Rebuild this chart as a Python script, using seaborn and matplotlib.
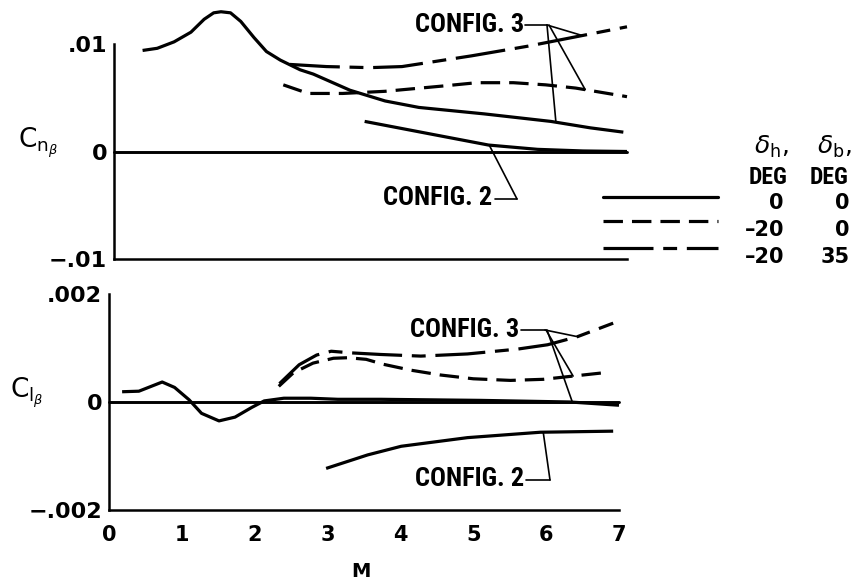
import numpy as np
import pandas as pd
import matplotlib
matplotlib.use("Agg")
import matplotlib.pyplot as plt
from matplotlib.lines import Line2D
from matplotlib import font_manager
import seaborn as sns

# ---------------- data ----------------
# upper panel : C_n_beta versus Mach number
cn_base_m = [0.39, 0.59, 0.82, 1.05, 1.23, 1.36, 1.46, 1.59, 1.73, 1.91, 2.08,
             2.27, 2.54, 2.72, 3.22, 3.70, 4.16, 5.05, 5.96, 6.50, 6.95]
cn_base_v = [0.0094, 0.0096, 0.0102, 0.0111, 0.0123, 0.0129, 0.0130, 0.0129,
             0.0121, 0.0106, 0.0093, 0.0085, 0.0076, 0.0072, 0.0057, 0.0047,
             0.0041, 0.0035, 0.0028, 0.0022, 0.0018]
cn_c3_dash_m = [2.31, 2.65, 3.12, 3.70, 4.50, 4.95, 5.45, 5.89, 6.30, 7.00]
cn_c3_dash_v = [0.0062, 0.0054, 0.0054, 0.0056, 0.0061, 0.0064, 0.0064,
                0.0062, 0.0059, 0.0051]
cn_c3_dd_m = [2.40, 2.90, 3.49, 3.93, 4.88, 5.65, 7.00]
cn_c3_dd_v = [0.0081, 0.0079, 0.0078, 0.0079, 0.0089, 0.0098, 0.0116]
cn_c2_m = [3.42, 4.34, 5.11, 5.78, 6.40, 7.00]
cn_c2_v = [0.0028, 0.0016, 0.0006, 0.0002, 0.00005, 0.0]

# lower panel : C_l_beta versus Mach number
cl_base_m = [0.18, 0.41, 0.73, 0.90, 1.10, 1.27, 1.51, 1.73, 1.96, 2.13, 2.40,
             2.77, 3.14, 3.73, 5.10, 6.33, 7.00]
cl_base_v = [0.00019, 0.00020, 0.00037, 0.00027, 0.00004, -0.00021, -0.00035,
             -0.00028, -0.00010, 0.00002, 0.00007, 0.00007, 0.00005, 0.00005,
             0.00003, 0.0, -0.00006]
cl_c3_dash_m = [2.33, 2.53, 2.80, 3.08, 3.28, 3.53, 3.76, 4.14, 4.55, 5.00,
                5.51, 5.96, 6.78]
cl_c3_dash_v = [0.00029, 0.00054, 0.00072, 0.00081, 0.00082, 0.00079, 0.00070,
                0.00059, 0.00050, 0.00043, 0.00040, 0.00042, 0.00054]
cl_c3_dd_m = [2.34, 2.61, 2.85, 3.05, 3.32, 3.73, 4.28, 4.92, 5.61, 6.02,
              6.43, 6.92]
cl_c3_dd_v = [0.00034, 0.00069, 0.00087, 0.00094, 0.00091, 0.00088, 0.00085,
              0.00089, 0.00098, 0.00106, 0.00121, 0.00146]
cl_c2_m = [2.98, 3.55, 4.01, 4.92, 5.92, 6.92]
cl_c2_v = [-0.00123, -0.00098, -0.00082, -0.00066, -0.00056, -0.00054]

x_ticks = [0, 1, 2, 3, 4, 5, 6, 7]
x_labels = ["0", "1", "2", "3", "4", "5", "6", "7"]
cn_ticks = [-0.01, 0.0, 0.01]
cn_labels = ["\u2212.01", "0", ".01"]
cl_ticks = [-0.002, 0.0, 0.002]
cl_labels = ["\u2212.002", "0", ".002"]

legend_dh = ["0", "\u201320", "\u201320"]
legend_db = ["0", "0", "35"]

# ---------------- style ----------------
sns.set_style("white")
plt.rcParams["font.family"] = ["DejaVu Sans"]
plt.rcParams["mathtext.fontset"] = "dejavusans"
plt.rcParams["lines.scale_dashes"] = False
plt.rcParams["axes.linewidth"] = 1.8
for key in ("text.color", "axes.labelcolor", "xtick.color", "ytick.color",
            "axes.edgecolor"):
    plt.rcParams[key] = "black"

# pick a condensed sans for the lettering if one is installed
entries = font_manager.fontManager.ttflist
names = {f.name for f in entries}
cfg_kw = None
for nm in ("Liberation Sans Narrow", "Roboto Condensed", "DejaVu Sans Condensed"):
    if nm in names:
        cfg_kw = dict(family=nm)
        cfg_size, deg_size = 19, 17
        break
if cfg_kw is None:
    if any(f.name == "DejaVu Sans" and str(f.stretch) in ("condensed", "semi-condensed")
           for f in entries):
        cfg_kw = dict(family="DejaVu Sans", fontstretch="condensed")
        cfg_size, deg_size = 15.5, 14.5
    elif "Roboto" in names:
        cfg_kw = dict(family="Roboto")
        cfg_size, deg_size = 16.5, 15.5
    else:
        cfg_kw = dict(family="DejaVu Sans")
        cfg_size, deg_size = 13.5, 12.5

LW = 2.3
SOLID = "-"
DASHED = (0, (14, 6.5))
DASHDOT = (0, (36, 7, 10, 7))

W, H = 854, 587
fig = plt.figure(figsize=(W / 100, H / 100), dpi=100)
fig.patch.set_facecolor("white")
ax1 = fig.add_axes([114 / W, 1 - 259 / H, 513 / W, 215 / H])
ax2 = fig.add_axes([109 / W, 1 - 510 / H, 510 / W, 216 / H])


def draw(ax, m, v, ls):
    df = pd.DataFrame({"M": m, "val": v})
    sns.lineplot(data=df, x="M", y="val", ax=ax, color="black", linewidth=LW,
                 linestyle=ls, errorbar=None, clip_on=False,
                 solid_capstyle="butt", dash_capstyle="butt")


for ax, ylim, ticks, labels in ((ax1, (-0.01, 0.01), cn_ticks, cn_labels),
                                (ax2, (-0.002, 0.002), cl_ticks, cl_labels)):
    ax.axhline(0, color="black", lw=2.1, clip_on=False)
    ax.set_xlim(0, 7)
    ax.set_ylim(*ylim)
    for s in ("top", "right"):
        ax.spines[s].set_visible(False)
    for s in ("left", "bottom"):
        ax.spines[s].set_color("black")
    ax.set_xticks(x_ticks)
    ax.set_yticks(ticks)
    ax.set_yticklabels(labels, fontsize=16, fontweight="bold")
    ax.set_yticks([ylim[1]], minor=True)
    ax.tick_params(axis="y", which="major", length=0, pad=5)
    ax.tick_params(axis="y", which="minor", direction="in", length=9,
                   width=1.8, color="black")
    ax.tick_params(axis="x", which="major", direction="in", length=9.5,
                   width=1.5, color="black")
    ax.set_facecolor("none")

draw(ax1, cn_base_m, cn_base_v, SOLID)
draw(ax1, cn_c2_m, cn_c2_v, SOLID)
draw(ax1, cn_c3_dash_m, cn_c3_dash_v, DASHED)
draw(ax1, cn_c3_dd_m, cn_c3_dd_v, DASHDOT)

draw(ax2, cl_base_m, cl_base_v, SOLID)
draw(ax2, cl_c2_m, cl_c2_v, SOLID)
draw(ax2, cl_c3_dash_m, cl_c3_dash_v, DASHED)
draw(ax2, cl_c3_dd_m, cl_c3_dd_v, DASHDOT)

ax1.set_xticklabels([])
ax2.set_xticklabels(x_labels, fontsize=15, fontweight="bold")
ax2.tick_params(axis="x", pad=11)
for ax in (ax1, ax2):
    ax.set_xlabel("")
    ax.set_ylabel("")

ax2.set_xlabel("M", fontsize=14, fontweight="bold", va="center")
ax2.xaxis.set_label_coords(0.494, -0.287)
ax1.set_ylabel(r"$\mathrm{C}_{\mathrm{n}_{\beta}}$", fontsize=19, rotation=0,
               ha="left", va="center")
ax1.yaxis.set_label_coords(-0.187, 0.54)
ax2.set_ylabel(r"$\mathrm{C}_{\mathrm{l}_{\beta}}$", fontsize=19, rotation=0,
               ha="left", va="center")
ax2.yaxis.set_label_coords(-0.194, 0.542)


# ---------------- annotations ----------------
def fx(x):
    return x / W


def fy(y):
    return 1 - y / H


def label(x, y, s):
    fig.text(fx(x), fy(y), s, ha="left", va="center", fontsize=cfg_size,
             fontweight="bold", **cfg_kw)


def hook(x1, y1, x2, y2):
    fig.add_artist(Line2D([fx(x1), fx(x2)], [fy(y1), fy(y2)], lw=1.2,
                          color="black", transform=fig.transFigure))


def leader(ax, start, m_end, m_arr, v_arr):
    v_end = float(np.interp(m_end, m_arr, v_arr))
    ax.annotate("", xy=(m_end, v_end), xycoords="data",
                xytext=(start[0], H - start[1]), textcoords="figure pixels",
                arrowprops=dict(arrowstyle="-", lw=1.2, color="black",
                                shrinkA=0, shrinkB=0),
                annotation_clip=False)


# upper panel labels
label(415, 25, "CONFIG. 3")
hook(525, 25, 547, 25)
leader(ax1, (547, 25), 6.03, cn_base_m, cn_base_v)
leader(ax1, (547, 25), 6.39, cn_c3_dd_m, cn_c3_dd_v)
leader(ax1, (549, 25), 6.43, cn_c3_dash_m, cn_c3_dash_v)
label(383, 198, "CONFIG. 2")
hook(495, 199, 517, 199)
leader(ax1, (517, 199), 5.12, cn_c2_m, cn_c2_v)

# lower panel labels
label(410, 330, "CONFIG. 3")
hook(521, 330, 545, 330)
leader(ax2, (545, 330), 6.43, cl_c3_dd_m, cl_c3_dd_v)
leader(ax2, (546, 330), 6.37, cl_c3_dash_m, cl_c3_dash_v)
leader(ax2, (547, 330), 6.36, cl_base_m, cl_base_v)
label(415, 479, "CONFIG. 2")
hook(526, 480, 550, 480)
leader(ax2, (550, 480), 5.96, cl_c2_m, cl_c2_v)

# legend (line key + deflection table)
fig.text(fx(771), fy(147), r"$\delta_{\mathrm{h}}$,", ha="center", va="center",
         fontsize=18)
fig.text(fx(834), fy(147), r"$\delta_{\mathrm{b}}$,", ha="center", va="center",
         fontsize=18)
fig.text(fx(768), fy(177), "DEG", ha="center", va="center", fontsize=deg_size,
         fontweight="bold", **cfg_kw)
fig.text(fx(829), fy(177), "DEG", ha="center", va="center", fontsize=deg_size,
         fontweight="bold", **cfg_kw)
key_y = [197, 221, 248]
row_y = [203, 230, 257]
styles = [SOLID, DASHED, DASHDOT]
for ky, ry, ls, a, b in zip(key_y, row_y, styles, legend_dh, legend_db):
    fig.add_artist(Line2D([fx(603), fx(718)], [fy(ky), fy(ky)], lw=LW,
                          color="black", linestyle=ls,
                          dash_capstyle="butt", transform=fig.transFigure))
    fig.text(fx(784), fy(ry), a, ha="right", va="center", fontsize=15,
             fontweight="bold")
    fig.text(fx(850), fy(ry), b, ha="right", va="center", fontsize=15,
             fontweight="bold")

fig.savefig("out.png", dpi=100, facecolor="white")
